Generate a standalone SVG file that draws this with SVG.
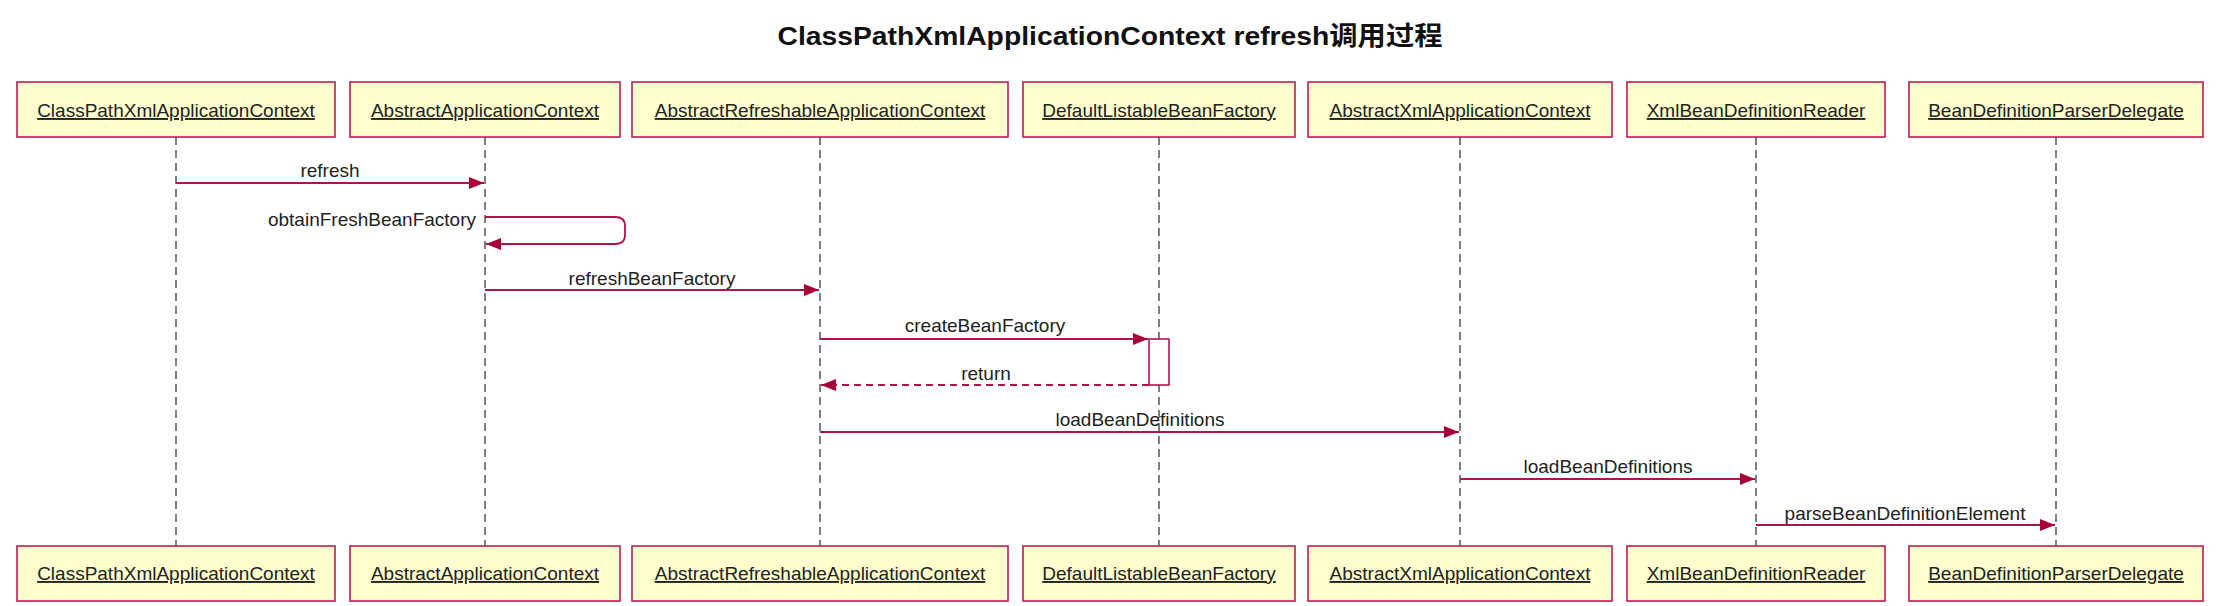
<svg xmlns="http://www.w3.org/2000/svg" width="2224" height="606" viewBox="0 0 2224 606">
<style>
.title{font-family:"Liberation Sans","Noto Sans CJK SC",sans-serif;font-weight:bold;font-size:26px;fill:#111;}
.pbox{fill:#FEFECE;stroke:#C2185B;stroke-width:1.6;}
.plabel{font-family:"Liberation Sans",Arial,sans-serif;font-size:19px;fill:#222;text-anchor:middle;text-decoration:underline;}
.life{stroke:#555;stroke-width:1.5;stroke-dasharray:8,5;fill:none;}
.msg{stroke:#B0144A;stroke-width:1.8;fill:none;}
.ret{stroke:#B0144A;stroke-width:1.8;fill:none;stroke-dasharray:7,5;}
.mlabel{font-family:"Liberation Sans",Arial,sans-serif;font-size:19px;fill:#222;text-anchor:middle;}
.act{fill:#fff;stroke:#B0144A;stroke-width:1.6;}
</style>
<defs>
<marker id="arr" markerWidth="16" markerHeight="12" refX="15" refY="6" orient="auto" markerUnits="userSpaceOnUse">
<path d="M0,0 L15,6 L0,12 Z" fill="#A80036"/>
</marker>
</defs>
<rect width="2224" height="606" fill="#fff"/>
<text class="title" x="1110" y="45" text-anchor="middle" textLength="665" lengthAdjust="spacingAndGlyphs">ClassPathXmlApplicationContext refresh调用过程</text>

<g id="lifelines">
<line class="life" x1="176" y1="137" x2="176" y2="546"/>
<line class="life" x1="485" y1="137" x2="485" y2="546"/>
<line class="life" x1="820" y1="137" x2="820" y2="546"/>
<line class="life" x1="1159" y1="137" x2="1159" y2="546"/>
<line class="life" x1="1460" y1="137" x2="1460" y2="546"/>
<line class="life" x1="1756" y1="137" x2="1756" y2="546"/>
<line class="life" x1="2056" y1="137" x2="2056" y2="546"/>
</g>

<g id="p1">
<rect class="pbox" x="17" y="82" width="318" height="55"/>
<text class="plabel" x="176" y="117">ClassPathXmlApplicationContext</text>
<rect class="pbox" x="17" y="546" width="318" height="55"/>
<text class="plabel" x="176" y="580">ClassPathXmlApplicationContext</text>
</g>
<g id="p2">
<rect class="pbox" x="350" y="82" width="270" height="55"/>
<text class="plabel" x="485" y="117">AbstractApplicationContext</text>
<rect class="pbox" x="350" y="546" width="270" height="55"/>
<text class="plabel" x="485" y="580">AbstractApplicationContext</text>
</g>
<g id="p3">
<rect class="pbox" x="632" y="82" width="376" height="55"/>
<text class="plabel" x="820" y="117">AbstractRefreshableApplicationContext</text>
<rect class="pbox" x="632" y="546" width="376" height="55"/>
<text class="plabel" x="820" y="580">AbstractRefreshableApplicationContext</text>
</g>
<g id="p4">
<rect class="pbox" x="1023" y="82" width="272" height="55"/>
<text class="plabel" x="1159" y="117">DefaultListableBeanFactory</text>
<rect class="pbox" x="1023" y="546" width="272" height="55"/>
<text class="plabel" x="1159" y="580">DefaultListableBeanFactory</text>
</g>
<g id="p5">
<rect class="pbox" x="1308" y="82" width="304" height="55"/>
<text class="plabel" x="1460" y="117">AbstractXmlApplicationContext</text>
<rect class="pbox" x="1308" y="546" width="304" height="55"/>
<text class="plabel" x="1460" y="580">AbstractXmlApplicationContext</text>
</g>
<g id="p6">
<rect class="pbox" x="1627" y="82" width="258" height="55"/>
<text class="plabel" x="1756" y="117">XmlBeanDefinitionReader</text>
<rect class="pbox" x="1627" y="546" width="258" height="55"/>
<text class="plabel" x="1756" y="580">XmlBeanDefinitionReader</text>
</g>
<g id="p7">
<rect class="pbox" x="1909" y="82" width="294" height="55"/>
<text class="plabel" x="2056" y="117">BeanDefinitionParserDelegate</text>
<rect class="pbox" x="1909" y="546" width="294" height="55"/>
<text class="plabel" x="2056" y="580">BeanDefinitionParserDelegate</text>
</g>

<g id="activation">
<rect class="act" x="1149" y="339" width="20" height="46"/>
</g>

<g id="connectors">
<line class="msg" x1="176" y1="183" x2="484" y2="183" marker-end="url(#arr)"/>
<text class="mlabel" x="330" y="177">refresh</text>

<path class="msg" d="M485,217 H615 Q625,217 625,226 V235 Q625,244 615,244 H486" marker-end="url(#arr)"/>
<text class="mlabel" x="476" y="226" text-anchor="end" style="text-anchor:end">obtainFreshBeanFactory</text>

<line class="msg" x1="485" y1="290" x2="819" y2="290" marker-end="url(#arr)"/>
<text class="mlabel" x="652" y="285">refreshBeanFactory</text>

<line class="msg" x1="820" y1="339" x2="1148" y2="339" marker-end="url(#arr)"/>
<text class="mlabel" x="985" y="332">createBeanFactory</text>

<line class="ret" x1="1149" y1="385" x2="821" y2="385" marker-end="url(#arr)"/>
<text class="mlabel" x="986" y="380">return</text>

<line class="msg" x1="820" y1="432" x2="1459" y2="432" marker-end="url(#arr)"/>
<text class="mlabel" x="1140" y="426">loadBeanDefinitions</text>

<line class="msg" x1="1460" y1="479" x2="1755" y2="479" marker-end="url(#arr)"/>
<text class="mlabel" x="1608" y="473">loadBeanDefinitions</text>

<line class="msg" x1="1756" y1="525" x2="2055" y2="525" marker-end="url(#arr)"/>
<text class="mlabel" x="1905" y="520">parseBeanDefinitionElement</text>
</g>
</svg>
